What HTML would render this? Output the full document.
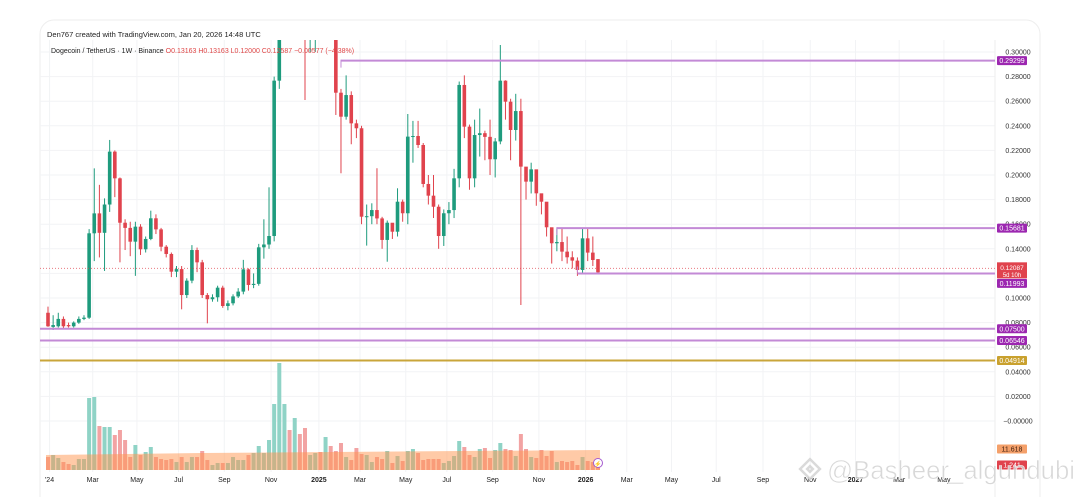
<!DOCTYPE html>
<html><head><meta charset="utf-8"><style>
html,body{margin:0;padding:0;background:#fff;width:1080px;height:497px;overflow:hidden}
svg{display:block;font-family:"Liberation Sans",sans-serif}
</style></head><body>
<svg id="chart" width="1080" height="497" viewBox="0 0 1080 497">
<rect x="40" y="20" width="1000" height="500" rx="14" fill="#fff" stroke="#eeeeee"/>
<text x="47" y="37" font-size="7.5" fill="#222">Den767 created with TradingView.com, Jan 20, 2026 14:48 UTC</text>
<g id="grid"></g>
<g id="vol"></g>
<g id="candles"></g>
<g id="levels"></g>
<g id="axis"></g>
<g id="xaxis"></g>
<text x="51" y="53" font-size="7" fill="#222">Dogecoin / TetherUS · 1W · Binance <tspan fill="#e04848">O0.13163 H0.13163 L0.12000 C0.12587 −0.00577 (−4.38%)</tspan></text>
<g opacity="0.85">
<g transform="translate(810,469) rotate(45)" fill="none" stroke="#d4d4d4" stroke-width="2.5"><rect x="-7" y="-7" width="14" height="14"/><rect x="-2" y="-2" width="4" height="4"/></g>
<text x="827" y="479" font-size="26" textLength="248" lengthAdjust="spacingAndGlyphs" fill="#d2d2d2" stroke="#fff" stroke-width="0.6">@Basheer_algundubi</text>
</g>
</svg>
<script>
const NS='http://www.w3.org/2000/svg';
const opens=[0.088,0.0765,0.077,0.083,0.078,0.077,0.080,0.083,0.084,0.1526,0.1688,0.153,0.176,0.219,0.1973,0.1612,0.157,0.1458,0.158,0.1396,0.148,0.1648,0.1558,0.1417,0.1358,0.1214,0.1235,0.1024,0.1141,0.139,0.129,0.1024,0.099,0.1006,0.1084,0.0935,0.0957,0.1013,0.1052,0.1233,0.1106,0.1115,0.1412,0.1435,0.1504,0.2767,0.38,0.43,0.40,0.41,0.40,0.32,0.33,0.36,0.34,0.36,0.33,0.2669,0.2474,0.265,0.242,0.238,0.1661,0.1665,0.1715,0.1647,0.1472,0.1612,0.1539,0.1783,0.1689,0.2312,0.2317,0.2244,0.1927,0.1832,0.1742,0.1504,0.1689,0.1715,0.1973,0.2732,0.2393,0.1973,0.2325,0.234,0.231,0.2128,0.2273,0.2767,0.2596,0.2366,0.252,0.2068,0.1946,0.2046,0.1851,0.1783,0.1575,0.1445,0.1455,0.1377,0.1331,0.1304,0.1228,0.1485,0.1369,0.1316];
const closes=[0.077,0.078,0.083,0.077,0.077,0.080,0.083,0.084,0.1526,0.1688,0.153,0.176,0.219,0.1973,0.1612,0.157,0.1458,0.158,0.1396,0.148,0.1648,0.1558,0.1417,0.1358,0.1214,0.1235,0.1024,0.1141,0.139,0.129,0.1024,0.099,0.1006,0.1084,0.0935,0.0957,0.1013,0.1052,0.1233,0.1106,0.1115,0.1412,0.1435,0.1504,0.2767,0.38,0.43,0.40,0.41,0.40,0.32,0.33,0.36,0.34,0.36,0.33,0.2669,0.2474,0.265,0.242,0.238,0.1661,0.1665,0.1715,0.1647,0.1472,0.1612,0.1539,0.1783,0.1689,0.2312,0.2317,0.2244,0.1927,0.1832,0.1742,0.1504,0.1689,0.1715,0.1973,0.2732,0.2393,0.1973,0.2325,0.234,0.231,0.2128,0.2273,0.2767,0.2596,0.2366,0.252,0.2068,0.1946,0.2046,0.1851,0.1783,0.1575,0.1445,0.1455,0.1377,0.1331,0.1304,0.1228,0.1485,0.1369,0.1309,0.1209];
const highs=[0.093,0.086,0.088,0.085,0.080,0.081,0.085,0.086,0.156,0.2054,0.192,0.181,0.2285,0.220,0.198,0.164,0.162,0.162,0.160,0.150,0.171,0.168,0.157,0.143,0.137,0.126,0.126,0.116,0.143,0.141,0.131,0.104,0.103,0.110,0.110,0.098,0.103,0.108,0.131,0.124,0.120,0.144,0.164,0.190,0.280,0.42,0.48,0.46,0.44,0.43,0.41,0.34,0.38,0.39,0.37,0.37,0.34,0.27,0.281,0.268,0.245,0.240,0.176,0.177,0.2055,0.166,0.163,0.160,0.1892,0.180,0.2496,0.244,0.244,0.226,0.200,0.200,0.176,0.172,0.178,0.205,0.276,0.281,0.241,0.245,0.254,0.236,0.245,0.230,0.3057,0.277,0.262,0.266,0.262,0.204,0.210,0.190,0.183,0.160,0.150,0.1565,0.1565,0.150,0.138,0.133,0.1565,0.1565,0.150,0.1316];
const lows=[0.0765,0.074,0.076,0.0755,0.076,0.076,0.079,0.082,0.083,0.130,0.133,0.122,0.170,0.182,0.129,0.139,0.134,0.118,0.135,0.137,0.147,0.152,0.138,0.133,0.117,0.117,0.0908,0.100,0.112,0.121,0.100,0.0794,0.097,0.097,0.092,0.090,0.094,0.100,0.103,0.106,0.108,0.110,0.132,0.140,0.146,0.270,0.36,0.38,0.38,0.36,0.261,0.30,0.30,0.32,0.32,0.31,0.2488,0.2014,0.245,0.225,0.230,0.160,0.1426,0.160,0.160,0.140,0.1295,0.148,0.150,0.162,0.160,0.210,0.222,0.190,0.176,0.165,0.140,0.1423,0.160,0.165,0.190,0.230,0.188,0.190,0.215,0.212,0.200,0.198,0.225,0.245,0.212,0.228,0.0943,0.180,0.185,0.175,0.168,0.150,0.128,0.138,0.130,0.128,0.124,0.118,0.1195,0.130,0.126,0.120];
const volumes=[13,15,12,8,6,5,11,11,72,73,44,43,43,35,40,30,13,25,15,18,23,13,11,10,11,8,13,8,13,13,19,10,5,7,7,7,13,10,10,15,17,24,17,30,66,107,66,40,52,36,42,15,17,18,33,24,19,27,13,10,22,16,15,8,13,11,19,7,14,9,19,21,17,10,11,11,11,7,9,14,29,23,15,13,21,22,12,20,27,21,20,14,36,21,13,12,20,14,19,8,9,8,9,5,13,9,8,5];
const priceTicks=[0.30,0.28,0.26,0.24,0.22,0.20,0.18,0.16,0.14,0.12,0.10,0.08,0.06,0.04,0.02,0.00];
const monthLabels=['\'24','Mar','May','Jul','Sep','Nov','2025','Mar','May','Jul','Sep','Nov','2026','Mar','May','Jul','Sep','Nov','2027','Mar','May'];
const monthWeeks=[0.3,8.7,17.3,25.4,34.3,43.4,52.7,60.7,69.6,77.6,86.5,95.5,104.6,112.6,121.3,130.0,139.1,148.3,157.1,165.6,174.3];
const levelPrices=[0.29299,0.15681,0.11993,0.07500,0.06546,0.04914];
const levelStart=[57,99,103,-2,-2,-2];
const levelNames=['level-0-29299','level-0-15681','level-0-11993','level-0-07500','level-0-06546','level-0-04914'];
const lastPrice=0.12087;

const X0=48,DX=5.14;
const xs=i=>X0+DX*i;
const ys=p=>52+(0.30-p)*1230;
const VB=470,VK=1.0;
const vy=v=>VB-v*VK;
const fmt=p=>(p<0.0000001? '\u22120.00000': p.toFixed(5));
function mk(tag,attrs,parent){const e=document.createElementNS(NS,tag);for(const k in attrs)e.setAttribute(k,attrs[k]);parent.appendChild(e);return e;}
const grid=document.getElementById('grid'),vol=document.getElementById('vol'),cg=document.getElementById('candles'),lv=document.getElementById('levels'),ax=document.getElementById('axis'),xa=document.getElementById('xaxis');
const defs=mk('defs',{},document.getElementById('chart'));
const cp=mk('clipPath',{id:'pc'},defs);mk('rect',{x:40,y:40,width:955,height:440},cp);
cg.setAttribute('clip-path','url(#pc)');
priceTicks.forEach(p=>{const l=mk('line',{x1:40,x2:995,y1:ys(p),y2:ys(p),stroke:'#f2f3f5','stroke-width':1},grid);

});
monthWeeks.forEach((w,i)=>{const x=xs(w);const l=mk('line',{x1:x,x2:x,y1:40,y2:472,stroke:'#f2f3f5','stroke-width':1},grid);


const t=mk('text',{x:x,y:482,'font-size':7,'text-anchor':'middle',fill:'#222','font-weight':(monthLabels[i].length===4?'bold':'normal')},xa);t.textContent=monthLabels[i];

});
mk('line',{x1:995,x2:995,y1:40,y2:497,stroke:'#eeeeee'},grid);
volumes.forEach((v,i)=>{const up=closes[i]>=opens[i];const r=mk('rect',{x:xs(i)-2,y:vy(v),width:4,height:v*VK,fill:up?'#8fd3c6':'#f2a3a3'},vol);

});
const band=mk('polygon',{points:`${xs(0)-2},${VB} ${xs(0)-2},455 ${xs(30)},453 ${xs(107)+2},450 ${xs(107)+2},${VB}`,fill:'rgba(255,150,80,0.5)'},vol);


opens.forEach((o,i)=>{const c=closes[i];const up=c>=o;const col=up?'#1e9b7d':'#e0434d';const x=xs(i);
const w=mk('line',{x1:x,x2:x,y1:ys(highs[i]),y2:ys(lows[i]),stroke:col,'stroke-width':1},cg);


const t=Math.min(ys(o),ys(c)),h=Math.max(1,Math.abs(ys(o)-ys(c)));
const b=mk('rect',{x:x-1.8,y:t,width:3.6,height:h,fill:col},cg);

});
const lp=mk('line',{x1:40,x2:995,y1:ys(lastPrice)-4,y2:ys(lastPrice)-4,stroke:'#e0434d','stroke-width':1,'stroke-dasharray':'1 2',opacity:0.7},lv);


levelPrices.forEach((p,i)=>{const gold=i===5;const col=gold?'#c9a53a':'#c38ad6';const x1=levelStart[i]<0?40:xs(levelStart[i]);
const l=mk('line',{x1:x1,x2:995,y1:ys(p),y2:ys(p),stroke:col,'stroke-width':2},lv);


if(levelStart[i]>=0){mk('line',{x1:x1,x2:x1,y1:ys(p)-1,y2:ys(p)+(i===2?-7:7),stroke:col,'stroke-width':1},lv);}
});
priceTicks.forEach(p=>{if(Math.abs(p-0.12)<1e-9)return;const t=mk('text',{x:1018,y:ys(p)+2.5,'font-size':7,'text-anchor':'middle',fill:'#333'},ax);t.textContent=fmt(p);

});
function tag(y,txt,bg,fg,h){const r=mk('rect',{x:997,y:y-h/2,width:30,height:h,fill:bg,rx:1},ax);


const t=mk('text',{x:1012,y:y+2.5,'font-size':7,'text-anchor':'middle',fill:fg},ax);t.textContent=txt;

return t;}
levelPrices.forEach((p,i)=>{if(i!==2)tag(ys(p),p.toFixed(5),i===5?'#c9a12e':'#9c27b0','#fff',9);});
const LY=ys(lastPrice)-4;
const r1=mk('rect',{x:997,y:LY-6,width:30,height:16,fill:'#e0434d'},ax);


const t1=mk('text',{x:1012,y:LY+1.5,'font-size':6.5,'text-anchor':'middle',fill:'#fff'},ax);t1.textContent=lastPrice.toFixed(5);


const t2=mk('text',{x:1012,y:LY+8.5,'font-size':6,'text-anchor':'middle',fill:'#fff'},ax);t2.textContent='5d 10h';


tag(LY+15,'0.11993','#9c27b0','#fff',9);
tag(449,'11.618','#f4a06a','#402010',9);
tag(465,'1.241','#e0434d','#fff',9);
const lg=mk('circle',{cx:598,cy:463,r:4.5,fill:'#fff',stroke:'#a55bd0','stroke-width':1},ax);


const lt=mk('text',{x:598,y:466,'font-size':6,'text-anchor':'middle',fill:'#a55bd0'},ax);lt.textContent='⚡';


</script>
</body></html>
